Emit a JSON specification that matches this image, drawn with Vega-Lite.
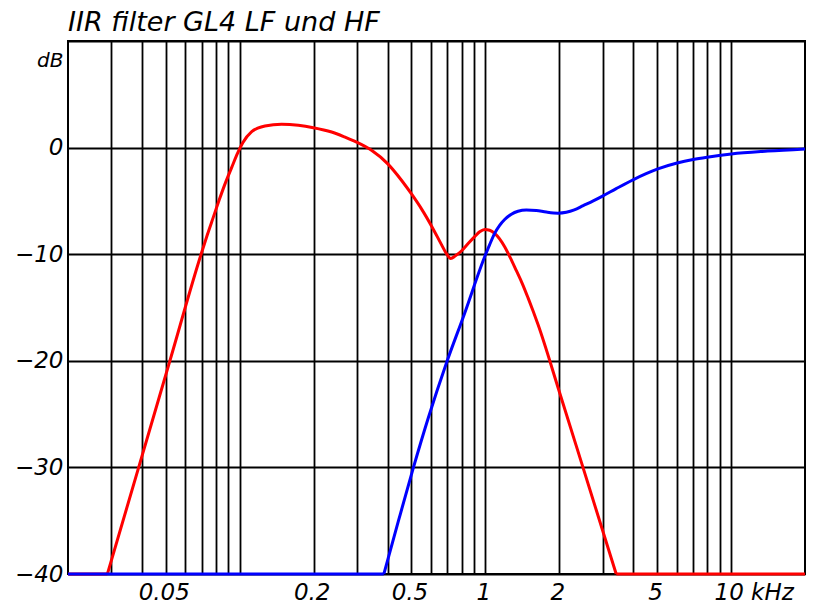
{
  "$schema": "https://vega.github.io/schema/vega-lite/v6.json",
  "width": 737,
  "height": 533,
  "autosize": "none",
  "padding": {"left": 68, "top": 41, "right": 8, "bottom": 32},
  "background": "white",
  "title": {
    "text": "IIR filter GL4 LF und HF",
    "anchor": "start",
    "frame": "group",
    "font": "DejaVu Sans",
    "fontSize": 27,
    "fontStyle": "italic",
    "fontWeight": "normal",
    "color": "black",
    "baseline": "alphabetic",
    "offset": 9,
    "dy": 26
  },
  "config": {
    "view": {"stroke": "black", "strokeWidth": 2},
    "axis": {
      "grid": true,
      "gridColor": "black",
      "gridWidth": 1.8,
      "gridOpacity": 1,
      "ticks": false,
      "tickSize": 0,
      "domain": false,
      "labelFont": "DejaVu Sans",
      "labelFontStyle": "italic",
      "labelFontSize": 23,
      "labelColor": "black",
      "labelOverlap": false,
      "labelBound": false,
      "labelFlush": false,
      "title": null
    }
  },
  "data": {
    "values": [
      {"band": "LF", "seg": "LF stop low", "kHz": 0.02, "dB": -40},
      {"band": "LF", "seg": "LF stop low", "kHz": 0.02893, "dB": -40},
      {"band": "LF", "seg": "LF pass", "kHz": 0.02893, "dB": -40},
      {"band": "LF", "seg": "LF pass", "kHz": 0.03879, "dB": -30},
      {"band": "LF", "seg": "LF pass", "kHz": 0.05197, "dB": -20},
      {"band": "LF", "seg": "LF pass", "kHz": 0.06963, "dB": -10},
      {"band": "LF", "seg": "LF pass", "kHz": 0.07377, "dB": -8.2},
      {"band": "LF", "seg": "LF pass", "kHz": 0.07816, "dB": -6.5},
      {"band": "LF", "seg": "LF pass", "kHz": 0.08254, "dB": -4.9},
      {"band": "LF", "seg": "LF pass", "kHz": 0.08714, "dB": -3.4},
      {"band": "LF", "seg": "LF pass", "kHz": 0.09279, "dB": -1.85},
      {"band": "LF", "seg": "LF pass", "kHz": 0.09815, "dB": -0.5},
      {"band": "LF", "seg": "LF pass", "kHz": 0.1029, "dB": 0.45},
      {"band": "LF", "seg": "LF pass", "kHz": 0.1119, "dB": 1.5},
      {"band": "LF", "seg": "LF pass", "kHz": 0.1184, "dB": 1.82},
      {"band": "LF", "seg": "LF pass", "kHz": 0.1267, "dB": 2.03},
      {"band": "LF", "seg": "LF pass", "kHz": 0.1481, "dB": 2.18},
      {"band": "LF", "seg": "LF pass", "kHz": 0.1732, "dB": 2.09},
      {"band": "LF", "seg": "LF pass", "kHz": 0.1994, "dB": 1.87},
      {"band": "LF", "seg": "LF pass", "kHz": 0.2366, "dB": 1.46},
      {"band": "LF", "seg": "LF pass", "kHz": 0.2672, "dB": 1.0},
      {"band": "LF", "seg": "LF pass", "kHz": 0.299, "dB": 0.52},
      {"band": "LF", "seg": "LF pass", "kHz": 0.344, "dB": -0.25},
      {"band": "LF", "seg": "LF pass", "kHz": 0.3997, "dB": -1.5},
      {"band": "LF", "seg": "LF pass", "kHz": 0.4555, "dB": -3.06},
      {"band": "LF", "seg": "LF pass", "kHz": 0.5003, "dB": -4.35},
      {"band": "LF", "seg": "LF pass", "kHz": 0.5494, "dB": -5.75},
      {"band": "LF", "seg": "LF pass", "kHz": 0.6034, "dB": -7.35},
      {"band": "LF", "seg": "LF pass", "kHz": 0.6626, "dB": -9.1},
      {"band": "LF", "seg": "LF pass", "kHz": 0.6942, "dB": -9.95},
      {"band": "LF", "seg": "LF pass", "kHz": 0.7226, "dB": -10.4},
      {"band": "LF", "seg": "LF pass", "kHz": 0.7551, "dB": -10.15},
      {"band": "LF", "seg": "LF pass", "kHz": 0.7988, "dB": -9.7},
      {"band": "LF", "seg": "LF pass", "kHz": 0.8506, "dB": -9.0},
      {"band": "LF", "seg": "LF pass", "kHz": 0.9047, "dB": -8.35},
      {"band": "LF", "seg": "LF pass", "kHz": 0.948, "dB": -7.9},
      {"band": "LF", "seg": "LF pass", "kHz": 0.9935, "dB": -7.68},
      {"band": "LF", "seg": "LF pass", "kHz": 1.041, "dB": -7.75},
      {"band": "LF", "seg": "LF pass", "kHz": 1.091, "dB": -8.05},
      {"band": "LF", "seg": "LF pass", "kHz": 1.198, "dB": -9.3},
      {"band": "LF", "seg": "LF pass", "kHz": 1.261, "dB": -10.3},
      {"band": "LF", "seg": "LF pass", "kHz": 1.337, "dB": -11.55},
      {"band": "LF", "seg": "LF pass", "kHz": 1.416, "dB": -12.8},
      {"band": "LF", "seg": "LF pass", "kHz": 1.492, "dB": -14.1},
      {"band": "LF", "seg": "LF pass", "kHz": 1.568, "dB": -15.4},
      {"band": "LF", "seg": "LF pass", "kHz": 1.638, "dB": -16.6},
      {"band": "LF", "seg": "LF pass", "kHz": 2.0, "dB": -22.9},
      {"band": "LF", "seg": "LF pass", "kHz": 2.496, "dB": -30.0},
      {"band": "LF", "seg": "LF pass", "kHz": 3.408, "dB": -40},
      {"band": "LF", "seg": "LF stop high", "kHz": 3.408, "dB": -40},
      {"band": "LF", "seg": "LF stop high", "kHz": 20, "dB": -40},
      {"band": "HF", "seg": "HF stop", "kHz": 0.02, "dB": -40},
      {"band": "HF", "seg": "HF stop", "kHz": 0.3861, "dB": -40},
      {"band": "HF", "seg": "HF pass", "kHz": 0.3861, "dB": -40},
      {"band": "HF", "seg": "HF pass", "kHz": 0.4429, "dB": -35},
      {"band": "HF", "seg": "HF pass", "kHz": 0.5082, "dB": -30.1},
      {"band": "HF", "seg": "HF pass", "kHz": 0.5867, "dB": -25.3},
      {"band": "HF", "seg": "HF pass", "kHz": 0.6942, "dB": -20.2},
      {"band": "HF", "seg": "HF pass", "kHz": 0.8215, "dB": -15.6},
      {"band": "HF", "seg": "HF pass", "kHz": 0.9935, "dB": -10.24},
      {"band": "HF", "seg": "HF pass", "kHz": 1.041, "dB": -9.1},
      {"band": "HF", "seg": "HF pass", "kHz": 1.091, "dB": -8.05},
      {"band": "HF", "seg": "HF pass", "kHz": 1.143, "dB": -7.3},
      {"band": "HF", "seg": "HF pass", "kHz": 1.198, "dB": -6.75},
      {"band": "HF", "seg": "HF pass", "kHz": 1.276, "dB": -6.25},
      {"band": "HF", "seg": "HF pass", "kHz": 1.358, "dB": -5.97},
      {"band": "HF", "seg": "HF pass", "kHz": 1.468, "dB": -5.85},
      {"band": "HF", "seg": "HF pass", "kHz": 1.612, "dB": -5.9},
      {"band": "HF", "seg": "HF pass", "kHz": 1.77, "dB": -6.05},
      {"band": "HF", "seg": "HF pass", "kHz": 1.975, "dB": -6.15},
      {"band": "HF", "seg": "HF pass", "kHz": 2.135, "dB": -6.07},
      {"band": "HF", "seg": "HF pass", "kHz": 2.301, "dB": -5.85},
      {"band": "HF", "seg": "HF pass", "kHz": 2.502, "dB": -5.45},
      {"band": "HF", "seg": "HF pass", "kHz": 2.748, "dB": -5.0},
      {"band": "HF", "seg": "HF pass", "kHz": 2.998, "dB": -4.55},
      {"band": "HF", "seg": "HF pass", "kHz": 3.408, "dB": -3.85},
      {"band": "HF", "seg": "HF pass", "kHz": 4.008, "dB": -3.0},
      {"band": "HF", "seg": "HF pass", "kHz": 4.512, "dB": -2.45},
      {"band": "HF", "seg": "HF pass", "kHz": 5.035, "dB": -2.0},
      {"band": "HF", "seg": "HF pass", "kHz": 6.033, "dB": -1.45},
      {"band": "HF", "seg": "HF pass", "kHz": 7.005, "dB": -1.12},
      {"band": "HF", "seg": "HF pass", "kHz": 7.988, "dB": -0.9},
      {"band": "HF", "seg": "HF pass", "kHz": 10.03, "dB": -0.6},
      {"band": "HF", "seg": "HF pass", "kHz": 14.1, "dB": -0.33},
      {"band": "HF", "seg": "HF pass", "kHz": 20, "dB": -0.12}
    ]
  },
  "encoding": {
    "x": {
      "field": "kHz",
      "type": "quantitative",
      "scale": {"type": "log", "domain": [0.02, 20], "nice": false},
      "axis": {
        "values": [0.03, 0.04, 0.05, 0.06, 0.07, 0.08, 0.09, 0.1, 0.2, 0.3, 0.4, 0.5, 0.6, 0.7, 0.8, 0.9, 1, 2, 3, 4, 5, 6, 7, 8, 9, 10],
        "labelExpr": "datum.value == 10 ? '10 kHz' : ((datum.value == 0.05 || datum.value == 0.2 || datum.value == 0.5 || datum.value == 1 || datum.value == 2 || datum.value == 5) ? '' + datum.value : '')",
        "labelPadding": 7,
        "labelAlign": {"condition": {"test": "datum.value == 10", "value": "left"}, "value": "center"},
        "labelOffset": {"condition": {"test": "datum.value == 10", "value": -17}, "value": -2}
      }
    },
    "y": {
      "field": "dB",
      "type": "quantitative",
      "scale": {"domain": [-40, 10], "nice": false},
      "axis": {
        "values": [-40, -30, -20, -10, 0, 10],
        "labelExpr": "datum.value == 10 ? 'dB' : datum.label",
        "labelPadding": 5,
        "labelFontSize": {"condition": {"test": "datum.value == 10", "value": 20}, "value": 23},
        "labelBaseline": {"condition": {"test": "datum.value == 10", "value": "top"}, "value": "middle"},
        "labelOffset": {"condition": {"test": "datum.value == 10", "value": 9}, "value": 0}
      }
    },
    "detail": {"field": "seg", "type": "nominal"}
  },
  "layer": [
    {
      "transform": [{"filter": "datum.band == 'LF'"}],
      "mark": {"type": "line", "color": "#ff0000", "strokeWidth": 3, "interpolate": "monotone", "clip": false}
    },
    {
      "transform": [{"filter": "datum.band == 'HF'"}],
      "mark": {"type": "line", "color": "#0000ff", "strokeWidth": 3, "interpolate": "monotone", "clip": false}
    }
  ]
}
